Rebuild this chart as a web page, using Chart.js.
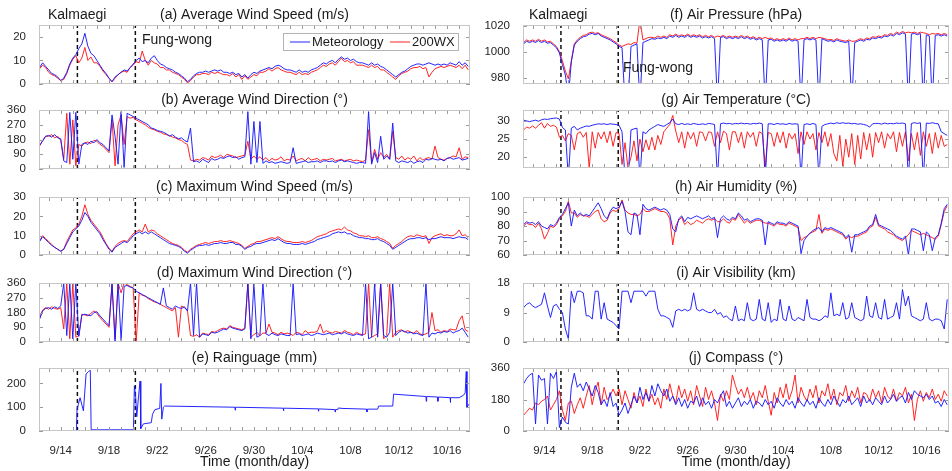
<!DOCTYPE html>
<html>
<head>
<meta charset="utf-8">
<script src="https://cdn.jsdelivr.net/npm/chart.js@4.4.1/dist/chart.umd.min.js"></script>
<style>
html, body { margin: 0; padding: 0; background: #fff; width: 952px; height: 471px; overflow: hidden; }
canvas { position: absolute; }
</style>
</head>
<body>
<script>
Chart.defaults.font.family = '"Liberation Sans", Arial, Helvetica, sans-serif';
Chart.defaults.color = '#262626';
Chart.defaults.animation = false;

// sample times (day of September, 10/1 = 31), one every 6 h from 9/12 06:00
var times = [];
for (var i = 0; i < 143; i++) times.push(12.25 + i * 0.25);

var dateTicks = [14, 18, 22, 26, 30, 34, 38, 42, 46];
var KALMAEGI = 15.38, FUNGWONG = 20.18;

// (a) average wind speed (m/s)
var avgSpeedMet = [7, 9, 7.5,
  6, 4.5, 4, 3,  1.5, 2.5, 5, 8.5,  11, 12.5, 15, 17,  21.5, 16, 13, 12,  10, 8, 6, 4.5,
  2.5, 1, 3, 4,  5, 6, 5.5, 7,  8.5, 10, 11, 9.5,  10, 9, 11, 12,  10, 8.5, 8, 7,
  6.5, 6, 5, 4.5,  3.5, 2.5, 1, 2,  3.5, 4.5, 5, 5,  5.5, 5, 5.5, 6,  5.5, 6, 5, 5,
  4.5, 5, 4, 4.5,  3, 4, 2.5, 4,  5, 4.5, 5.5, 6,  6.5, 7, 6.5, 7.5,  8, 7.5, 6.5, 6,
  6, 5.5, 5, 6,  5, 5.5, 5, 6,  6.5, 7, 8, 9,  8.5, 9.5, 10, 9,  10.5, 11.5, 10.5, 11,
  10, 10.5, 9.5, 9,  9, 8.5, 8, 9,  8, 8.5, 7.5, 7,  6, 5, 4, 3,  4, 5, 5.5, 6.5,
  7.5, 8, 8.5, 8.5,  8, 8.5, 9, 8.5,  8, 8.5, 8, 8.5,  8, 9, 8.5, 8,  9.5, 8, 9, 7.5];
var avgSpeedWx = [6.5, 8, 7,
  5, 4, 3.5, 2.5,  1.5, 2, 4.5, 8,  10.5, 12, 9, 11,  15.5, 10, 11.5, 9,  9, 7.5, 5.5, 4,
  2.5, 1, 2.5, 4,  5, 5.5, 5, 7,  8, 9.5, 9, 14,  10, 8, 10, 9,  8.5, 7, 7, 6,
  6, 5, 4.5, 4,  3, 2, 0.5, 1.5,  3, 4, 4, 4.5,  4.5, 4, 5, 4.5,  5, 4.5, 4, 4,
  3.5, 4.5, 3, 4,  2, 3.5, 2, 3,  4, 3.5, 5, 5,  5.5, 6.5, 5.5, 6.5,  7, 6, 5.5, 5,
  5, 4.5, 4, 5,  4, 4.5, 4, 5,  5.5, 6, 7, 8,  7.5, 8.5, 9, 8,  9.5, 11, 9.5, 10,
  9, 9.5, 8, 8,  8, 7.5, 7, 8,  7, 7.5, 6, 6,  5, 4, 3, 2,  3.5, 4.5, 5, 5.5,
  6.5, 7, 7, 7.5,  6.5, 7, 3, 5,  6.5, 7, 7.5, 7,  7.5, 8, 7.5, 7,  8, 6.5, 8, 6];

// (b) average wind direction (deg)
var avgDirMet = [145, 170, 200,
  205, 195, 210, 190,  185, 50, 40, 345,  60, 345, 30, 150,  160, 150, 170, 160,  180, 160, 150, 130,
  110, 330, 200, 30,  350, 10, 340, 330,  320, 310, 300, 290,  280, 270, 250, 245,  235, 230, 225, 215,
  200, 210, 195, 185,  190, 175, 165, 250,  45, 50, 40, 60,  50, 40, 65, 55,  60, 70, 65, 75,
  80, 70, 75, 60,  70, 75, 350, 30,  290, 40, 290, 35,  50, 40, 45, 35,  40, 45, 40, 35,
  40, 130, 35, 40,  45, 50, 40, 45,  45, 50, 40, 50,  50, 45, 50, 40,  50, 55, 45, 50,
  45, 40, 35, 40,  40, 35, 350, 30,  100, 40, 200, 60,  80, 60, 280, 50,  40, 50, 45, 40,
  50, 35, 45, 50,  40, 60, 55, 65,  60, 55, 60, 50,  65, 70, 60, 65,  70, 55, 60, 65];
var avgDirWx = [140, 175, 200,
  200, 210, 190, 200,  175, 60, 340, 30,  300, 20, 150, 140,  160, 165, 155, 175,  170, 150, 140, 120,
  100, 300, 20, 270,  330, 150, 320, 310,  315, 300, 290, 280,  270, 255, 245, 240,  230, 225, 215, 210,
  205, 195, 190, 180,  175, 160, 150, 55,  50, 60, 55, 70,  65, 55, 80, 70,  75, 85, 70, 90,
  85, 80, 70, 75,  80, 85, 170, 60,  80, 60, 75, 55,  70, 50, 65, 55,  60, 75, 50, 60,
  55, 80, 50, 60,  65, 50, 70, 55,  60, 65, 50, 60,  55, 60, 65, 50,  55, 60, 50, 55,
  60, 50, 55, 50,  45, 55, 240, 40,  120, 60, 100, 70,  90, 60, 230, 70,  60, 80, 55, 70,
  60, 80, 50, 70,  55, 65, 70, 60,  140, 70, 60, 55,  65, 70, 80, 75,  130, 60, 75, 70];

// (c) maximum wind speed (m/s)
var maxSpeedMet = [7, 9.5, 8,
  6.5, 5, 4, 3,  2, 3, 6, 9,  12, 13.5, 15, 18,  22, 20, 17, 15,  13, 11, 8, 5.5,
  3, 1.5, 4, 5,  6, 7, 6.5, 8,  10, 11, 12, 11,  12, 11, 12, 11,  10, 9, 8, 7,
  6, 5.5, 5, 4.5,  3.5, 2, 1, 2.5,  3.5, 4.5, 5, 5,  5.5, 5, 5.5, 6,  6, 6.5, 6, 6,
  6.5, 6.5, 5.5, 5.5,  4.5, 3, 4, 4.5,  5.5, 6, 6, 6.5,  7, 7.5, 8, 7.5,  8.5, 7.5, 6.5, 6,
  6, 5.5, 5.5, 5.5,  6, 5.5, 6, 6.5,  7, 8, 8.5, 9,  9.5, 10, 11, 11.5,  12, 11.5, 12, 11,
  11, 10, 9.5, 9,  9, 8.5, 8.5, 8,  8, 8.5, 7.5, 7,  6, 5, 3, 4,  5, 6, 7, 8,
  8.5, 8.5, 9, 9,  8.5, 9, 8, 8.5,  8.5, 9, 9.5, 9,  9, 9, 8.5, 9,  9.5, 9, 9, 8];
var maxSpeedWx = [7.5, 10, 8.5,
  7, 5.5, 4, 3,  2, 3, 7, 10,  13, 14, 16, 20,  26, 21, 18, 16,  14, 12, 9, 6,
  3.5, 2, 4.5, 6,  7, 7.5, 7, 9,  11, 12, 13, 12,  16, 12, 13, 12.5,  11, 10, 9, 8,
  7, 6, 5.5, 5,  4, 2.5, 1.5, 3,  4, 5, 5.5, 6,  6.5, 6, 6.5, 7,  7, 7.5, 7, 7,
  7.5, 7, 6.5, 6,  5, 3.5, 4.5, 5.5,  6, 7, 7, 7.5,  8, 8.5, 9, 8.5,  9.5, 8.5, 7.5, 7,
  7, 6.5, 6.5, 6.5,  7, 6.5, 7, 7.5,  8.5, 9.5, 10, 10.5,  11, 12, 12.5, 13,  13.5, 13, 14.5, 13,
  12.5, 11.5, 11, 10,  10, 9.5, 10, 9,  9, 9.5, 8.5, 8,  7, 6, 3.5, 5,  6, 7, 8.5, 9.5,
  10, 9.5, 10.5, 10,  9.5, 10, 6, 9,  10, 10.5, 11, 10,  10.5, 10, 10, 11,  13, 10, 10.5, 9];

// (d) maximum wind direction (deg)
var maxDirMet = [140, 190, 205,
  210, 200, 215, 205,  220, 360, 40, 360,  20, 360, 35, 165,  170, 165, 160, 180,  185, 160, 140, 120,
  100, 360, 0, 360,  10, 340, 345, 335,  330, 310, 300, 290,  280, 270, 260, 250,  240, 230, 330, 220,
  210, 200, 220, 210,  205, 215, 190, 360,  40, 360, 30, 50,  45, 40, 60, 55,  60, 70, 80, 75,
  95, 85, 80, 75,  70, 80, 360, 20,  360, 30, 40, 360,  50, 40, 55, 45,  40, 50, 45, 40,
  40, 360, 45, 50,  40, 45, 50, 40,  45, 55, 50, 45,  50, 55, 45, 50,  55, 50, 60, 50,
  45, 40, 50, 45,  40, 360, 20, 30,  360, 30, 360, 40,  30, 60, 360, 40,  60, 70, 65, 55,
  60, 50, 55, 45,  40, 360, 30, 55,  50, 60, 55, 65,  60, 70, 55, 65,  70, 85, 60, 30];
var maxDirWx = [145, 195, 210,
  200, 215, 205, 200,  210, 80, 360, 20,  360, 30, 40, 170,  165, 160, 175, 190,  175, 150, 130, 110,
  90, 350, 20, 360,  300, 360, 350, 340,  330, 0, 300, 285,  280, 265, 255, 245,  240, 230, 220, 210,
  200, 190, 210, 30,  220, 210, 190, 40,  35, 45, 30, 55,  50, 45, 65, 60,  70, 80, 85, 80,
  100, 90, 85, 80,  75, 85, 360, 30,  45, 60, 40, 55,  55, 110, 60, 55,  45, 60, 50, 55,
  50, 40, 60, 55,  45, 70, 55, 60,  60, 65, 110, 55,  70, 60, 55, 65,  60, 55, 70, 60,
  55, 45, 60, 50,  45, 50, 360, 30,  40, 50, 360, 20,  40, 360, 30, 60,  70, 75, 60, 70,
  60, 55, 70, 50,  45, 50, 60, 180,  70, 75, 60, 70,  65, 80, 75, 75,  130, 160, 75, 65];

// (e) rain gauge (mm), logged irregularly
var rainTime = [12.2, 15.3, 15.35, 15.45, 15.6, 15.75, 15.88, 16.1, 16.3, 16.45, 16.52, 20.02, 20.1,
  20.2, 20.3, 20.45, 20.57, 20.63, 20.85, 21.5, 21.6, 21.8, 22.2, 22.3, 22.37, 22.5, 22.6,
  28.43, 28.45, 28.48, 32.43, 32.45, 32.48, 35.33, 35.35, 35.38, 36.7, 36.73, 36.76, 36.95, 37.0,
  37.3, 39.33, 39.36, 39.4, 40.25, 40.33, 41.5, 41.57, 44.25, 44.28, 44.31, 45.22, 45.24, 45.27,
  46.25, 46.27, 46.3, 47.0, 47.35, 47.5, 47.59, 47.65, 47.75, 47.9];
var rainLevel = [0, 0, 90, 110, 140, 110, 85, 240, 250, 255, 5, 5, 190,
  150, 60, 150, 210, 10, 30, 35, 70, 90, 95, 200, 50, 100, 105,
  100, 88, 100, 96, 85, 96, 93, 83, 93, 90, 80, 90, 90, 97,
  95, 92, 80, 92, 92, 105, 105, 155, 145, 125, 145, 143, 125, 143,
  140, 120, 140, 140, 150, 160, 250, 100, 110, 110];

// (f) air pressure (hPa)
var pressMet = [1006, 1008, 1007,
  1008, 1007, 1008.5, 1007,  1008, 1006.5, 1007, 1005,  1003, 999, 990, 982,  965, 992, 1005, 1008,
  1010, 1011.5, 1012, 1013.5,  1014, 1013, 1014, 1012,  1011, 1010, 1009, 1007.5,  1006, 1004, 1003, 960,
  960, 1004, 1005, 1006,  960, 1007, 1008, 1009,  1010, 1009.5, 1010.5, 1010,  1011, 1010, 1012, 1011,
  1012.5, 1011, 1012, 1011,  1012.5, 1011, 1012, 1011,  1012, 1010.5, 1011.5, 1010.5,  1011.5, 1010, 960, 1011,
  1011.5, 1010, 1011, 1010,  1011, 1010, 1011.5, 1010,  1011, 1009.5, 1010.5, 1009,  1010, 1009, 960, 1009,
  1009.5, 1008, 1009, 1008,  1009, 1008, 1009.5, 1008,  1009, 1008, 960, 1009,  1010, 1009, 1010, 1009,
  960, 1010, 1009, 1008,  1008.5, 1007.5, 1009, 1008,  1007.5, 1007, 1008, 960,  1007, 1008, 1009, 1008,
  1009.5, 1009, 1010.5, 1010,  1011, 1010.5, 1012, 1011.5,  1013, 1012, 1014, 1013,  1014.5, 1013.5, 960, 1013.5,
  1014, 1013, 1014, 960,  1013, 1012, 960, 1012.5,  1013, 1012, 1013, 1012];
var pressWx = [1007, 1009, 1008,
  1009, 1008, 1009.5, 1008,  1009, 1007.5, 1008, 1006,  1004, 1000, 993, 985,  979, 993, 1006, 1009,
  1011, 1012.5, 1013, 1014.5,  1015, 1014, 1014.5, 1013,  1012, 1011, 1010, 1008.5,  1007, 1005, 1004, 1005,
  1006, 1005.5, 1007, 1006.5,  1025, 1009, 1010, 1011,  1011, 1010.5, 1012, 1011,  1012, 1011, 1013, 1012,
  1013.5, 1012, 1013, 1012,  1013.5, 1012, 1013, 1012,  1013, 1011.5, 1012.5, 1011.5,  1012.5, 1011, 1012, 1011.5,
  1012.5, 1011, 1012, 1011,  1012, 1011, 1012.5, 1011,  1012, 1010.5, 1011.5, 1010,  1011, 1010, 1011, 1010,
  1010.5, 1009, 1010, 1009,  1010, 1009, 1010.5, 1009,  1010, 1009, 1010, 1010,  1011, 1010, 1011, 1010,
  1011, 1010.5, 1010, 1009,  1009.5, 1008.5, 1010, 1009,  1008.5, 1008, 1009, 1008,  1008, 1009, 1010, 1009,
  1010.5, 1010, 1011.5, 1011,  1012, 1011.5, 1013, 1012.5,  1014, 1013, 1015, 1014,  1015.5, 1014.5, 1015, 1014.5,
  1015, 1014, 1015, 1014.5,  1014, 1013, 1014, 1013.5,  1014, 1013, 1014, 1013];

// (g) air temperature (deg C)
var tempMet = [30.2, 30, 29.8,
  30, 30.2, 29.9, 30.3,  30.5, 30.4, 30.6, 30.7,  30.8, 30.5, 28.2, 27.5,  14, 28, 28.5, 27.5,
  28, 28.3, 28.6, 28.5,  28.8, 29, 29.2, 29.1,  29.2, 29, 29.2, 29.1,  29, 28.8, 27, 14,
  14, 27.5, 27.8, 28,  14, 27, 26.5, 27.5,  28, 28.5, 29, 28.7,  28.5, 29, 29.5, 30.5,
  29.2, 29, 29.3, 29,  29.2, 29, 29.3, 29.1,  29, 29.2, 29, 29.3,  29.2, 29, 14, 29.2,
  29.4, 29.2, 29.3, 29.1,  29.3, 29.2, 29.4, 29.2,  29.3, 29.1, 29.3, 29.2,  29.4, 29.2, 14, 29.2,
  29.2, 29, 29.3, 29.1,  29.2, 29, 29.3, 29.1,  29.2, 29.1, 14, 29,  29.2, 29, 29.3, 29,
  14, 28.5, 29, 29.2,  29.4, 29.2, 29.5, 29.3,  29.5, 29.3, 29.4, 29.2,  29.3, 29.1, 29.2, 29,
  28.8, 28.3, 29.2, 29.3,  29.3, 29.1, 29.4, 29.2,  29.3, 29.2, 29.4, 29.3,  29.4, 29.2, 14, 29.3,
  29.5, 29.3, 29.5, 14,  29.4, 29.3, 29.5, 29.3,  29.2, 27, 26.5, 26];
var tempWx = [27.5, 28.3, 28,
  28.6, 28, 28.8, 29.5,  28, 29.3, 28.5, 28.8,  28.3, 25.5, 26, 24.5,  26.5, 26, 22, 26.5,
  27, 25.5, 26.8, 17,  27, 22.5, 26.8, 25,  27, 24, 27.2, 23,  26.8, 26.5, 18, 24,
  17, 20, 24.5, 19,  25, 21.5, 24.8, 22,  25.5, 22, 26, 23.5,  27, 28, 29, 31.5,
  27.2, 24, 27, 22.5,  27, 25, 26.8, 23,  27, 26.8, 24.5, 27,  26.8, 23, 27, 24,
  27.2, 26.5, 22, 27,  27, 24, 26.9, 22.5,  27, 25.5, 26.8, 23,  27, 26.5, 17.5, 26.8,
  26.5, 23, 26.8, 24,  27, 22.5, 26.6, 25,  26.5, 21, 27, 23.5,  27, 25, 26.5, 22,
  26.8, 24, 27, 23,  26.5, 21, 19, 26,  17.5, 25, 20, 26.5,  18, 26, 19.5, 26.8,
  22, 26.5, 20, 26.8,  24, 27, 22.5, 26.5,  25, 27, 21.5, 26.8,  23, 27, 19, 26.5,
  22, 26.8, 20.5, 27,  23, 26.5, 21, 26.8,  22.5, 26, 23, 23.5];

// (h) air humidity (%)
var humMet = [81, 83, 82,
  82.5, 81, 83, 80,  79, 78, 81, 80,  82, 86, 88, 92,  96, 80, 91, 87,  89, 87, 88, 87,
  90, 93, 96, 92,  87, 85, 90, 93,  92, 93, 97, 90,  76, 74, 89, 88,  74, 95, 92, 91,
  92, 93, 92, 91,  92, 91, 88, 78,  76, 85, 87, 83,  86, 85, 86, 87,  86, 85, 86, 87,
  85, 86, 72, 85,  87, 85, 84, 86,  85, 89, 87, 84,  85, 83, 84, 85,  85, 84, 67, 83,
  82, 81, 83, 82,  82, 81, 83, 82,  81, 80, 61, 70,  73, 75, 77, 78,  79, 76, 79, 78,
  79, 78, 77, 76,  75, 72, 74, 62,  74, 74, 75, 76,  77, 80, 81, 88,  81, 80, 79, 78,
  77, 75, 73, 72,  71, 73, 60, 78,  78, 77, 76, 63,  76, 74, 63, 72,  74, 82, 92, 95];
var humWx = [80, 82, 81,
  81, 79, 82, 78,  71, 75, 80, 79,  81, 85, 87, 90,  97, 89, 89, 86,  88, 87, 87, 86,
  88, 90, 91, 85,  83, 84, 89, 91,  90, 92, 98, 91,  89, 88, 88, 87,  88, 92, 90, 90,
  91, 92, 91, 90,  90, 89, 85, 67,  80, 84, 86, 81,  83, 81, 82, 84,  83, 82, 84, 85,
  84, 85, 83, 83,  85, 83, 82, 85,  84, 88, 85, 82,  84, 82, 83, 84,  84, 83, 82, 82,
  81, 80, 82, 81,  81, 80, 82, 81,  80, 79, 70, 72,  73, 75, 76, 77,  88, 75, 78, 77,
  78, 77, 76, 75,  74, 71, 73, 72,  73, 73, 74, 75,  76, 79, 80, 86,  80, 79, 78, 76,
  75, 74, 72, 71,  70, 72, 74, 77,  76, 75, 74, 75,  74, 73, 72, 71,  73, 81, 90, 94];

// (i) air visibility (km)
var visMet = [10.5, 11.5, 12,
  11, 10.5, 11, 11.5,  15, 11, 7.5, 11,  11.5, 10, 9, 4,  1, 15.5, 12, 15.5,  15.5, 15, 8, 8,
  7, 15.5, 15.5, 7,  12, 7, 6.5, 6,  5, 4, 15.5, 15.5,  15.5, 12, 15.5, 15.5,  15.5, 15.5, 14, 15.5,
  15.5, 15.5, 10, 8,  8, 7.5, 7, 4.5,  9.5, 10, 9.5, 10,  9.5, 10, 15, 10,  9.5, 10, 9.5, 9,
  9, 10, 8.5, 9,  7.5, 8, 7, 6.5,  11, 6.5, 7, 6.5,  12, 7, 6.5, 7,  13, 7, 6.5, 12,
  6, 7, 6.5, 13,  7, 6.5, 11, 7,  6.5, 7.5, 7, 6.5,  13, 7.5, 7, 7,  6.5, 7, 8, 7.5,
  15, 8, 8.5, 8,  12, 7, 7.5, 12,  7.5, 7, 6.5, 7,  14, 8, 7.5, 12,  7.5, 7, 13, 7,
  7.5, 8, 12, 7,  16, 11, 14, 8,  7.5, 7, 6.5, 7,  12, 7, 6.5, 7,  7, 6.5, 4, 13];

// (j) compass heading (deg)
var compMet = [270, 300, 320,
  330, 40, 320, 290,  300, 40, 330, 300,  340, 20, 80, 50,  40, 250, 330, 250,  270, 230, 280, 240,
  200, 260, 220, 150,  180, 140, 220, 140,  160, 90, 120, 160,  100, 150, 200, 160,  250, 180, 220, 170,
  260, 200, 270, 230,  200, 240, 170, 200,  150, 190, 140, 180,  130, 170, 160, 200,  140, 190, 150, 170,
  130, 180, 160, 200,  230, 140, 170, 130,  160, 190, 140, 170,  150, 180, 130, 170,  160, 140, 180, 150,
  170, 130, 190, 160,  140, 180, 150, 170,  130, 190, 160, 140,  180, 150, 170, 130,  190, 160, 140, 180,
  150, 200, 170, 140,  180, 160, 200, 150,  170, 190, 140, 200,  160, 180, 150, 190,  170, 150, 200, 160,
  180, 210, 170, 190,  200, 160, 220, 180,  230, 210, 200, 190,  210, 180, 200, 160,  170, 140, 180, 150];
var compWx = [90, 110, 130,
  120, 160, 150, 170,  180, 200, 120, 150,  180, 230, 120, 60,  160, 170, 100, 150,  190, 130, 200, 260,
  150, 230, 280, 150,  250, 180, 200, 240,  200, 240, 150, 230,  180, 130, 220, 160,  200, 140, 240, 170,
  210, 150, 190, 130,  240, 180, 270, 200,  160, 260, 190, 240,  170, 230, 150, 260,  200, 140, 250, 180,
  230, 160, 60, 210,  170, 230, 180, 320,  260, 210, 240, 190,  250, 180, 220, 150,  230, 190, 260, 170,
  90, 220, 160, 250,  190, 270, 180, 230,  320, 160, 250, 200,  170, 240, 190, 260,  160, 230, 200, 270,
  180, 240, 150, 220,  200, 260, 170, 230,  190, 250, 160, 220,  210, 170, 240, 190,  230, 160, 250, 200,
  180, 240, 170, 220,  200, 250, 160, 210,  60, 180, 230, 170,  220, 190, 240, 180,  210, 170, 230, 200];

var BLUE = 'rgba(25, 25, 255, 0.95)';
var RED = 'rgba(255, 25, 25, 0.95)';
var FONT = '"Liberation Sans", Arial, Helvetica, sans-serif';

function trace(vals, color) {
  return {
    data: vals.map(function (v, i) { return { x: times[i], y: v }; }),
    borderColor: color, borderWidth: 1, pointRadius: 0, tension: 0
  };
}

function stormLine(t, lo, hi) {
  return {
    data: [{ x: t, y: lo }, { x: t, y: hi }],
    borderColor: '#111', borderWidth: 1.5, borderDash: [4, 3], pointRadius: 0
  };
}

function dayLabel(v) {
  return v <= 30 ? '9/' + v : '10/' + (v - 30);
}

// box, inward ticks, panel title, notes and legend in MATLAB style
var frame = {
  id: 'frame',
  afterDraw: function (chart) {
    var o = chart.options.plugins.frame;
    var a = chart.chartArea, ctx = chart.ctx;
    var xs = chart.scales.x, ys = chart.scales.y;
    ctx.save();
    ctx.lineWidth = 1;
    ctx.strokeStyle = '#9a9a9a';
    ctx.beginPath();
    for (var d = Math.ceil(xs.min); d <= xs.max; d++) {
      var px = Math.round(xs.getPixelForValue(d)) + 0.5;
      ctx.moveTo(px, a.bottom); ctx.lineTo(px, a.bottom - 4);
      ctx.moveTo(px, a.top); ctx.lineTo(px, a.top + 4);
    }
    ys.ticks.forEach(function (t) {
      var py = Math.round(ys.getPixelForValue(t.value)) + 0.5;
      ctx.moveTo(a.left, py); ctx.lineTo(a.left + 4, py);
      ctx.moveTo(a.right, py); ctx.lineTo(a.right - 4, py);
    });
    ctx.stroke();
    ctx.strokeStyle = '#c6c6c6';
    ctx.strokeRect(Math.round(a.left) + 0.5, Math.round(a.top) + 0.5,
      Math.round(a.right - a.left) - 1, Math.round(a.bottom - a.top) - 1);

    ctx.fillStyle = '#1a1a1a';
    ctx.textBaseline = 'middle';
    ctx.font = '14px ' + FONT;
    ctx.textAlign = 'center';
    ctx.fillText(o.title, (a.left + a.right) / 2, a.top - 9.5);
    if (o.xlabel) ctx.fillText(o.xlabel, (a.left + a.right) / 2, a.bottom + 31);
    ctx.textAlign = 'left';
    (o.notes || []).forEach(function (n) {
      ctx.fillText(n.text, a.left + n.dx, a.top + n.dy);
    });

    if (o.legend) {
      var lx = a.left + 244, ly = a.top + 8;
      ctx.fillStyle = '#fff';
      ctx.fillRect(lx, ly, 175, 17);
      ctx.strokeStyle = '#b4b4b4';
      ctx.strokeRect(lx + 0.5, ly + 0.5, 175, 17);
      ctx.lineWidth = 1;
      ctx.strokeStyle = BLUE;
      ctx.beginPath(); ctx.moveTo(lx + 7, ly + 9); ctx.lineTo(lx + 27, ly + 9); ctx.stroke();
      ctx.strokeStyle = RED;
      ctx.beginPath(); ctx.moveTo(lx + 107, ly + 9); ctx.lineTo(lx + 127, ly + 9); ctx.stroke();
      ctx.fillStyle = '#1a1a1a';
      ctx.font = '13px ' + FONT;
      ctx.fillText('Meteorology', lx + 29, ly + 9);
      ctx.fillText('200WX', lx + 129, ly + 9);
    }
    ctx.restore();
  }
};

function panel(p) {
  var cv = document.createElement('canvas');
  var x0 = p.col ? 478 : 0;
  var yw = p.col ? 45 : 39;
  var padB = p.xlabel ? 0 : 8;
  var axH = p.xlabel ? 38 : 0;
  cv.width = p.col ? 476 : 475;
  cv.height = 22 + (p.bottom - p.top) + padB + axH;
  cv.style.left = x0 + 'px';
  cv.style.top = (p.top - 22) + 'px';
  document.body.appendChild(cv);

  var sets = p.sets.concat([stormLine(KALMAEGI, p.yMin, p.yMax), stormLine(FUNGWONG, p.yMin, p.yMax)]);
  new Chart(cv, {
    type: 'line',
    data: { datasets: sets },
    options: {
      responsive: false,
      events: [],
      layout: { padding: { top: 22, right: 5, bottom: padB, left: 0 } },
      plugins: {
        legend: { display: false },
        tooltip: { enabled: false },
        frame: { title: p.title, notes: p.notes, legend: p.legend, xlabel: p.xlabel }
      },
      scales: {
        x: {
          type: 'linear', min: 12.2, max: 47.9,
          display: !!p.xlabel,
          grid: { display: false }, border: { display: false },
          afterBuildTicks: function (s) { s.ticks = dateTicks.map(function (v) { return { value: v }; }); },
          ticks: { autoSkip: false, maxRotation: 0, padding: 5, font: { size: 11.5 }, callback: dayLabel },
          afterFit: function (s) { s.height = axH; }
        },
        y: {
          min: p.yMin, max: p.yMax,
          grid: { display: false }, border: { display: false },
          afterBuildTicks: function (s) { s.ticks = p.yTicks.map(function (v) { return { value: v }; }); },
          ticks: { autoSkip: false, padding: 5, font: { size: 11.5 }, callback: function (v) { return String(v); } },
          afterFit: function (s) { s.width = yw; }
        }
      }
    },
    plugins: [frame]
  });
}

var kal = { text: 'Kalmaegi', dx: 9, dy: -9.5 };

panel({ col: 0, top: 25, bottom: 88, title: '(a) Average Wind Speed (m/s)', yMin: 0, yMax: 25, yTicks: [0, 10, 20],
  sets: [trace(avgSpeedMet, BLUE), trace(avgSpeedWx, RED)], legend: true,
  notes: [kal, { text: 'Fung-wong', dx: 103, dy: 15 }] });
panel({ col: 0, top: 110, bottom: 173, title: '(b) Average Wind Direction (\u00b0)', yMin: 0, yMax: 360, yTicks: [0, 90, 180, 270, 360],
  sets: [trace(avgDirMet, BLUE), trace(avgDirWx, RED)] });
panel({ col: 0, top: 197, bottom: 259, title: '(c) Maximum Wind Speed (m/s)', yMin: 0, yMax: 30, yTicks: [0, 10, 20, 30],
  sets: [trace(maxSpeedMet, BLUE), trace(maxSpeedWx, RED)] });
panel({ col: 0, top: 283, bottom: 346, title: '(d) Maximum Wind Direction (\u00b0)', yMin: 0, yMax: 360, yTicks: [0, 90, 180, 270, 360],
  sets: [trace(maxDirMet, BLUE), trace(maxDirWx, RED)] });
panel({ col: 0, top: 368, bottom: 431, title: '(e) Rainguage (mm)', yMin: 0, yMax: 265, yTicks: [0, 100, 200],
  sets: [{ data: rainTime.map(function (t, i) { return { x: t, y: rainLevel[i] }; }),
           borderColor: BLUE, borderWidth: 1, pointRadius: 0, tension: 0 }],
  xlabel: 'Time (month/day)' });

panel({ col: 1, top: 25, bottom: 88, title: '(f) Air Pressure (hPa)', yMin: 975, yMax: 1020.5, yTicks: [980, 1000, 1020],
  sets: [trace(pressMet, BLUE), trace(pressWx, RED)],
  notes: [{ text: 'Kalmaegi', dx: 6, dy: -9.5 }, { text: 'Fung-wong', dx: 100, dy: 43 }] });
panel({ col: 1, top: 110, bottom: 172, title: '(g) Air Temperature (\u00b0C)', yMin: 17, yMax: 33, yTicks: [20, 25, 30],
  sets: [trace(tempMet, BLUE), trace(tempWx, RED)] });
panel({ col: 1, top: 197, bottom: 259, title: '(h) Air Humidity (%)', yMin: 60, yMax: 100, yTicks: [60, 70, 80, 90, 100],
  sets: [trace(humMet, BLUE), trace(humWx, RED)] });
panel({ col: 1, top: 283, bottom: 346, title: '(i) Air Visibility (km)', yMin: 0, yMax: 18, yTicks: [0, 9, 18],
  sets: [trace(visMet, BLUE)] });
panel({ col: 1, top: 368, bottom: 431, title: '(j) Compass (\u00b0)', yMin: 0, yMax: 360, yTicks: [0, 180, 360],
  sets: [trace(compMet, BLUE), trace(compWx, RED)], xlabel: 'Time (month/day)' });
</script>
</body>
</html>
